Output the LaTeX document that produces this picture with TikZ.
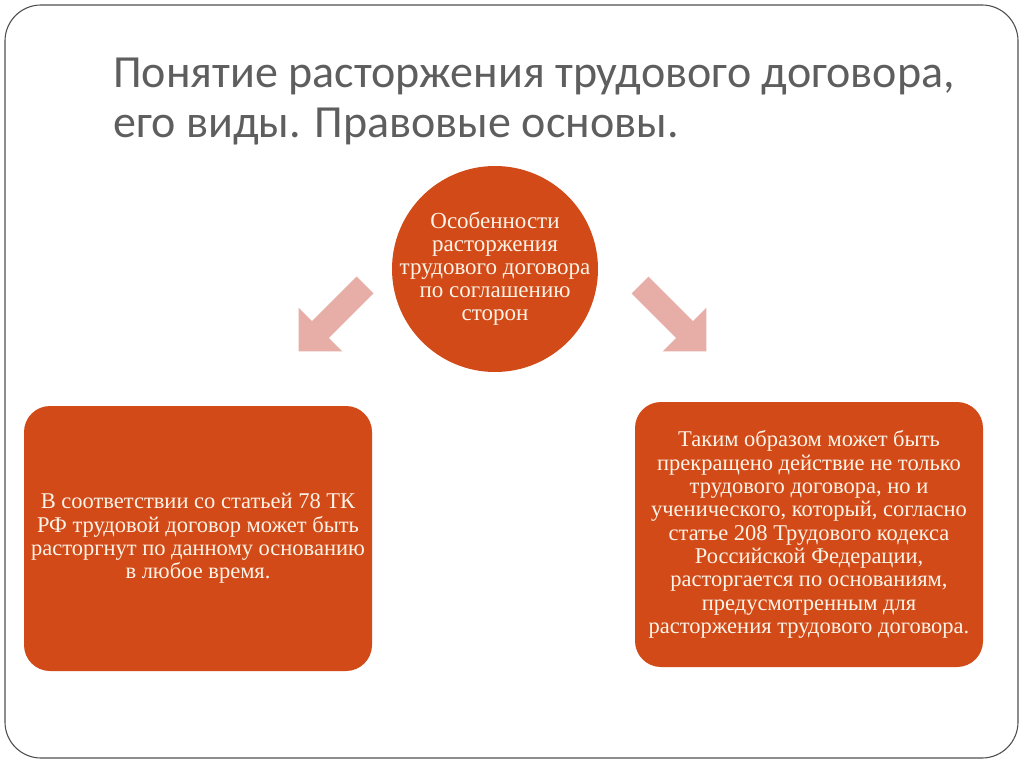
\documentclass[tikz,border=0pt]{standalone}
\usepackage{fontspec}
\setmainfont{Liberation Serif}
\newfontfamily\titlefont{Carlito}
\usetikzlibrary{positioning}

\definecolor{rust}{HTML}{D14A18}
\definecolor{pinkarrow}{HTML}{E6AEA7}
\definecolor{titlegrey}{HTML}{5E5E5E}
\definecolor{creamtext}{HTML}{FDF3E7}
\definecolor{framegrey}{HTML}{505050}

\tikzset{
    topic/.style={circle, fill=rust, text=creamtext, minimum size=206pt, inner sep=-25pt,
        align=center, font=\fontsize{23}{23}\selectfont},
    textbox/.style={rectangle, rounded corners=26pt, fill=rust, text=creamtext,
        minimum width=348pt, minimum height=265pt, inner sep=0pt,
        align=center, font=\fontsize{22.5}{23.3}\selectfont},
    pics/blockarrow/.style={code={
        \fill[pinkarrow] (0,-12) -- (63,-12) -- (63,-31) -- (94,0) -- (63,31) -- (63,12) -- (0,12) -- cycle;
    }}
}

\begin{document}
\begin{tikzpicture}[x=1pt,y=-1pt]
    \useasboundingbox (0,0) rectangle (1024,767);
    % frame
    \draw[framegrey, line width=1.1pt, rounded corners=36pt] (5,5) rectangle (1018,758);
    % title
    \node[anchor=base west, inner sep=0pt, text=titlegrey, align=left,
        font=\titlefont\fontsize{46}{50}\selectfont] at (113,138) (title)
        {Понятие расторжения трудового договора,\\его виды. Правовые основы.};
    % centre and boxes
    \node[topic] at (495,269) (sogl) {Особенности\\расторжения\\трудового договора\\по соглашению\\сторон};
    \node[textbox] at (198,538.5) (st78) {В соответствии со статьей 78 ТК\\РФ трудовой договор может быть\\расторгнут по данному основанию\\в любое время.};
    \node[textbox] at (809,534.5) (st208) {Таким образом может быть\\прекращено действие не только\\трудового договора, но и\\ученического, который, согласно\\статье 208 Трудового кодекса\\Российской Федерации,\\расторгается по основаниям,\\предусмотренным для\\расторжения трудового договора.};
    % arrows
    \coordinate (lefttail) at (365,285);
    \coordinate (righttail) at (640,285);
    \pic[rotate=-135] at (lefttail) {blockarrow};
    \pic[rotate=-45] at (righttail) {blockarrow};
\end{tikzpicture}
\end{document}
